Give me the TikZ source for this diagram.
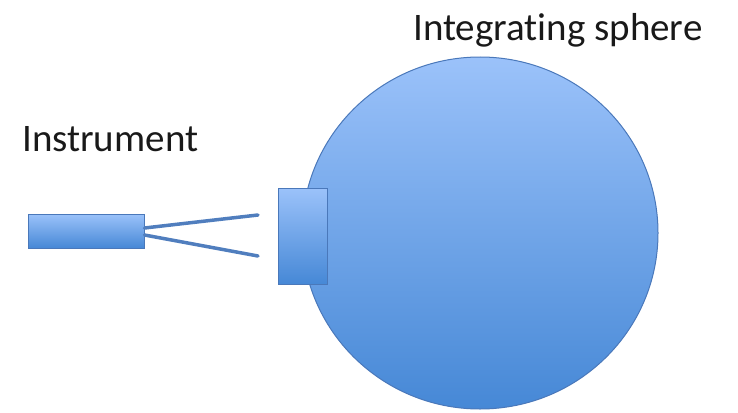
\documentclass[tikz,border=0pt]{standalone}
\usepackage{fontspec}
\setmainfont[Ligatures={NoCommon}]{Carlito}
\usetikzlibrary{shapes.geometric}
\begin{document}
\begin{tikzpicture}[x=1pt,y=-1pt,
  blueshape/.style={draw=edgeblue, line width=1pt, top color=topblue, bottom color=botblue},
  lbl/.style={font=\fontsize{39}{44}\selectfont, text=textgray, inner sep=0pt, anchor=base west},
  cable/.style={draw=cableblue, line width=3.5pt, line cap=round}]
\definecolor{topblue}{RGB}{155,194,250}
\definecolor{botblue}{RGB}{70,136,214}
\definecolor{edgeblue}{RGB}{74,120,186}
\definecolor{cableblue}{RGB}{80,126,190}
\definecolor{textgray}{RGB}{25,25,25}
\useasboundingbox (0,0) rectangle (738,412);
\node[blueshape, ellipse, minimum width=356, minimum height=352, inner sep=0pt] (sphere) at (480,233) {};
\node[blueshape, rectangle, minimum width=49, minimum height=96, inner sep=0pt] (port) at (302.5,236) {};
\node[blueshape, rectangle, minimum width=116, minimum height=34, inner sep=0pt] (instr) at (86,231) {};
\coordinate (e1) at (258,215);
\coordinate (e2) at (258,256);
\draw[cable] ([yshift=3]instr.east) -- (e1);
\draw[cable] ([yshift=-4]instr.east) -- (e2);
\node[lbl] (lblinstr) at (22,151) {Instrument};
\node[lbl] (lblsphere) at (413,41) {Integrating sphere};
\end{tikzpicture}
\end{document}
